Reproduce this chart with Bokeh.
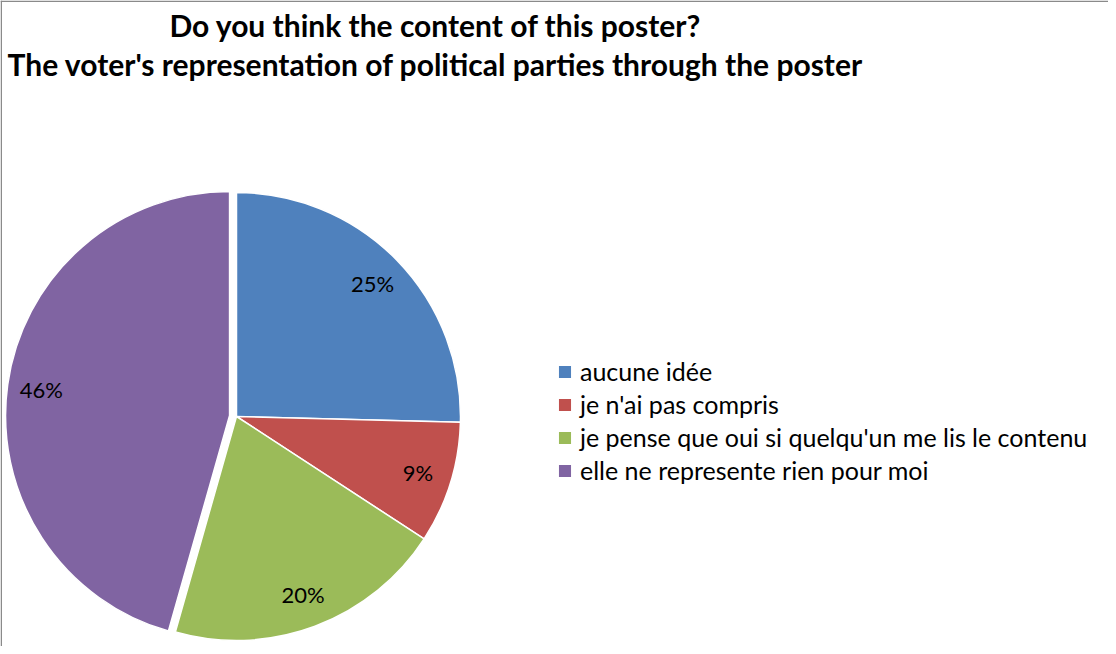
import math
from bokeh.plotting import figure
from bokeh.models import Range1d, ColumnDataSource, Legend, LegendItem, Span, Label
from bokeh.core.properties import value
from bokeh.embed import file_html
from bokeh.resources import INLINE

# ---- data ----
categories = ["aucune idée", "je n'ai pas compris",
              "je pense que oui si quelqu'un me lis le contenu",
              "elle ne represente rien pour moi"]
shares = [0.254, 0.088, 0.202, 0.456]
colors = ["#4F81BD", "#C0504D", "#9BBB59", "#8064A2"]
explode = [0, 0, 0, 7]  # px offset of the slice
title_lines = ["Do you think the content of this poster?",
               "The voter's representation of political parties through the poster"]

W, H = 1108, 646
FONT = "Lato"

p = figure(width=W, height=H, output_backend="svg", toolbar_location=None,
           x_range=Range1d(0, W), y_range=Range1d(0, H), min_border=0)
p.axis.visible = False
p.grid.visible = False
p.outline_line_color = None
p.background_fill_color = "white"

# layout (in page pixels: x = img_x - 8, y = 654 - img_y)
cx, cy, R = 236, 230, 224
label_r = 190

starts, ends, xs, ys, lx, ly, texts = [], [], [], [], [], [], []
cum = 0.0
for s, e in zip(shares, explode):
    a0 = math.pi / 2 - cum * 2 * math.pi
    cum += s
    a1 = math.pi / 2 - cum * 2 * math.pi
    mid = (a0 + a1) / 2
    x0 = cx + e * math.cos(mid)
    y0 = cy + e * math.sin(mid)
    starts.append(a0); ends.append(a1); xs.append(x0); ys.append(y0)
    lx.append(x0 + label_r * math.cos(mid)); ly.append(y0 + label_r * math.sin(mid))
    texts.append(f"{round(s * 100)}%")

src = ColumnDataSource(dict(x=xs, y=ys, start=starts, end=ends, color=colors,
                            cat=categories, lx=lx, ly=ly, txt=texts))
r = p.wedge(x="x", y="y", radius=R, start_angle="start", end_angle="end",
            direction="clock", fill_color="color", line_color="white",
            line_width=1.5, source=src)
p.text(x="lx", y="ly", text="txt", source=src, text_font=value(FONT),
       text_font_size="22px", text_align="center", text_baseline="middle",
       text_color="black")

# title
for i, t in enumerate(title_lines):
    p.add_layout(Label(x=435, y=622 - i * 39, text=t, text_font=FONT,
                       text_font_size="30px", text_font_style="bold",
                       text_align="center", text_baseline="middle",
                       text_color="black"))

# legend
items = [LegendItem(label=c, renderers=[r], index=i) for i, c in enumerate(categories)]
leg = Legend(items=items, location=(556, 161), orientation="vertical",
             glyph_width=17, glyph_height=17, label_height=25, spacing=3,
             label_standoff=7, padding=0, margin=0,
             label_text_font=FONT, label_text_font_size="25px",
             label_text_color="black", border_line_color=None,
             background_fill_alpha=0)
p.add_layout(leg, "center")

# chart frame edges (left/top)
p.add_layout(Span(location=0.75, dimension="height", line_color="#8A8A8A", line_width=1.5))
p.add_layout(Span(location=H - 0.75, dimension="width", line_color="#8A8A8A", line_width=1.5))

open("out.html", "w").write(file_html(p, INLINE))
